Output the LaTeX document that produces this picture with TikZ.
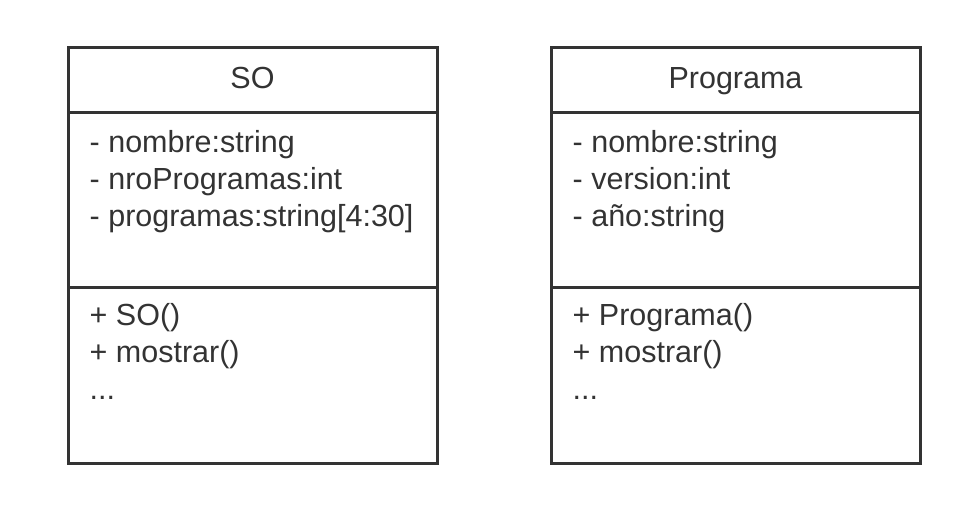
\documentclass[tikz,border=0pt]{standalone}
\usepackage{fontspec}
\setmainfont{Liberation Sans}
\usetikzlibrary{positioning}
\definecolor{umlgray}{HTML}{333333}
\tikzset{
	part/.style = {draw=umlgray, line width=3pt, minimum width=369pt, inner sep=0pt, outer sep=0pt},
	member/.style = {anchor=base west, inner sep=0pt, text=umlgray, font=\fontsize{30.5}{36}\selectfont},
	classname/.style = {member, anchor=base},
}

\begin{document}
\begin{tikzpicture}[x=1pt, y=-1pt]
	\useasboundingbox (0,0) rectangle (978,529);
	% SO
	\node[part, minimum height=65pt, anchor=north west] (soHead) at (68,48) {};
	\node[part, minimum height=175pt, below=0pt of soHead] (soAttrs) {};
	\node[part, minimum height=175pt, below=0pt of soAttrs] (soOps) {};
	\node[classname] (soName) at (soHead.center |- 0,89) {SO};
	\foreach \txt [count = \i] in {- nombre:string, - nroProgramas:int, {- programas:string[4:30]}} {
		\node[member] (soAttr\i) at (89.5,116+37*\i) {\txt};
	}
	\foreach \txt [count = \i] in {+ SO(), + mostrar()} {
		\node[member] (soOp\i) at (89.5,289+37*\i) {\txt};
	}
	\node[member] (soOp3) at (89.5,400) {...};
	% Programa
	\node[part, minimum height=65pt, anchor=north west] (progHead) at (551,48) {};
	\node[part, minimum height=175pt, below=0pt of progHead] (progAttrs) {};
	\node[part, minimum height=175pt, below=0pt of progAttrs] (progOps) {};
	\node[classname] (progName) at (progHead.center |- 0,89) {Programa};
	\foreach \txt [count = \i] in {- nombre:string, - version:int, - año:string} {
		\node[member] (progAttr\i) at (572.5,116+37*\i) {\txt};
	}
	\foreach \txt [count = \i] in {+ Programa(), + mostrar()} {
		\node[member] (progOp\i) at (572.5,289+37*\i) {\txt};
	}
	\node[member] (progOp3) at (572.5,400) {...};
\end{tikzpicture}
\end{document}
